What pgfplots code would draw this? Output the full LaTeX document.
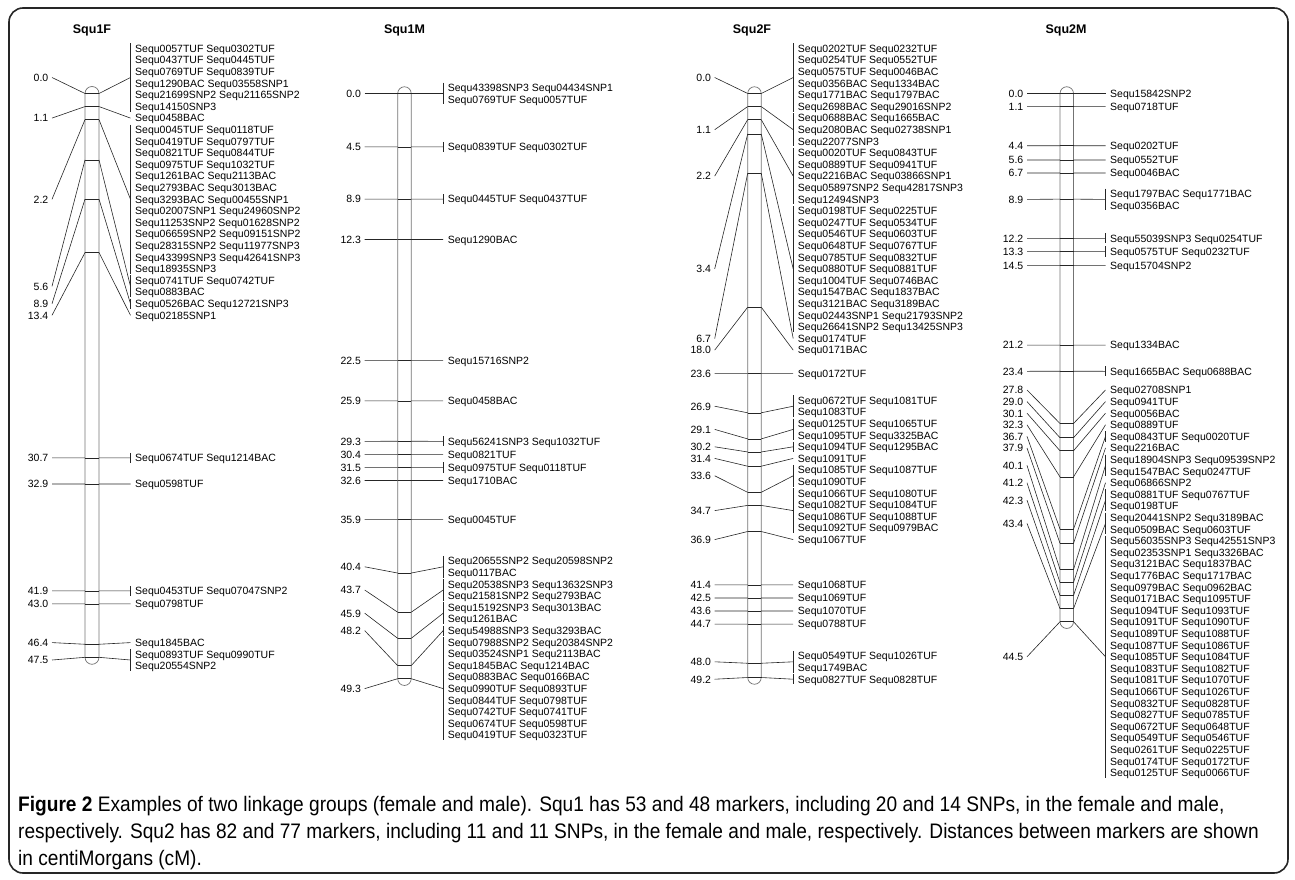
\documentclass[border=0pt]{standalone}
\usepackage{pgfplots}
\pgfplotsset{compat=1.18}
\usepackage{pgfplotstable}
\usepackage{fontspec}
\setmainfont{Liberation Sans}
\newfontfamily\capfont[FakeStretch=0.91]{Liberation Sans}
\definecolor{chr}{gray}{0.45}
\definecolor{lnk}{gray}{0.15}
\newcommand\labfont{\fontsize{10.5}{11.6}\selectfont}

% ---------- Squ1F ----------
\pgfplotstableread{
cM yl nl br
0.0 77.5 6 1
1.1 118.1 1 0
2.2 199.3 13 1
5.6 286.3 2 1
8.9 303.7 1 1
13.4 315.3 1 0
30.7 457.9 1 1
32.9 484.0 1 0
41.9 590.9 1 1
43.0 603.9 1 0
46.4 642.6 1 0
47.5 660.0 2 1
}\lociA
\pgfplotstableread[col sep=comma]{
y,t
48.5,Sequ0057TUF Sequ0302TUF
60.1,Sequ0437TUF Sequ0445TUF
71.7,Sequ0769TUF Sequ0839TUF
83.3,Sequ1290BAC Sequ03558SNP1
94.9,Sequ21699SNP2 Sequ21165SNP2
106.5,Sequ14150SNP3
118.1,Sequ0458BAC
129.7,Sequ0045TUF Sequ0118TUF
141.3,Sequ0419TUF Sequ0797TUF
152.9,Sequ0821TUF Sequ0844TUF
164.5,Sequ0975TUF Sequ1032TUF
176.1,Sequ1261BAC Sequ2113BAC
187.7,Sequ2793BAC Sequ3013BAC
199.3,Sequ3293BAC Sequ00455SNP1
210.9,Sequ02007SNP1 Sequ24960SNP2
222.5,Sequ11253SNP2 Sequ01628SNP2
234.1,Sequ06659SNP2 Sequ09151SNP2
245.7,Sequ28315SNP2 Sequ11977SNP3
257.3,Sequ43399SNP3 Sequ42641SNP3
268.9,Sequ18935SNP3
280.5,Sequ0741TUF Sequ0742TUF
292.1,Sequ0883BAC
303.7,Sequ0526BAC Sequ12721SNP3
315.3,Sequ02185SNP1
457.9,Sequ0674TUF Sequ1214BAC
484.0,Sequ0598TUF
590.9,Sequ0453TUF Sequ07047SNP2
603.9,Sequ0798TUF
642.6,Sequ1845BAC
654.2,Sequ0893TUF Sequ0990TUF
665.8,Sequ20554SNP2
}\txtA

% ---------- Squ1M ----------
\pgfplotstableread{
cM yl nl br
0.0 93.5 2 1
4.5 146.9 1 1
8.9 199.1 1 1
12.3 239.5 1 0
22.5 360.6 1 0
25.9 400.9 1 0
29.3 441.3 1 1
30.4 454.3 1 0
31.5 467.4 1 1
32.6 480.5 1 0
35.9 519.6 1 0
40.4 566.8 2 1
43.7 590.0 2 1
45.9 613.2 2 1
48.2 630.6 1 1
49.3 688.6 9 1
}\lociB
\pgfplotstableread[col sep=comma]{
y,t
87.7,Sequ43398SNP3 Sequ04434SNP1
99.3,Sequ0769TUF Sequ0057TUF
146.9,Sequ0839TUF Sequ0302TUF
199.1,Sequ0445TUF Sequ0437TUF
239.5,Sequ1290BAC
360.6,Sequ15716SNP2
400.9,Sequ0458BAC
441.3,Sequ56241SNP3 Sequ1032TUF
454.3,Sequ0821TUF
467.4,Sequ0975TUF Sequ0118TUF
480.5,Sequ1710BAC
519.6,Sequ0045TUF
561.0,Sequ20655SNP2 Sequ20598SNP2
572.6,Sequ0117BAC
584.2,Sequ20538SNP3 Sequ13632SNP3
595.8,Sequ21581SNP2 Sequ2793BAC
607.4,Sequ15192SNP3 Sequ3013BAC
619.0,Sequ1261BAC
630.6,Sequ54988SNP3 Sequ3293BAC
642.2,Sequ07988SNP2 Sequ20384SNP2
653.8,Sequ03524SNP1 Sequ2113BAC
665.4,Sequ1845BAC Sequ1214BAC
677.0,Sequ0883BAC Sequ0166BAC
688.6,Sequ0990TUF Sequ0893TUF
700.2,Sequ0844TUF Sequ0798TUF
711.8,Sequ0742TUF Sequ0741TUF
723.4,Sequ0674TUF Sequ0598TUF
735.0,Sequ0419TUF Sequ0323TUF
}\txtB

% ---------- Squ2F ----------
\pgfplotstableread{
cM yl nl br
0.0 77.5 6 1
1.1 129.7 3 1
2.2 176.1 5 1
3.4 268.9 11 1
6.7 338.5 1 0
18.0 350.1 1 0
23.6 373.6 1 0
26.9 406.2 2 1
29.1 429.4 2 1
30.2 446.8 1 1
31.4 458.4 1 0
33.6 475.8 2 1
34.7 510.6 4 1
36.9 539.6 1 0
41.4 584.9 1 0
42.5 598.0 1 0
43.6 611.0 1 0
44.7 624.1 1 0
48.0 661.8 2 1
49.2 679.2 1 1
}\lociC
\pgfplotstableread[col sep=comma]{
y,t
48.5,Sequ0202TUF Sequ0232TUF
60.1,Sequ0254TUF Sequ0552TUF
71.7,Sequ0575TUF Sequ0046BAC
83.3,Sequ0356BAC Sequ1334BAC
94.9,Sequ1771BAC Sequ1797BAC
106.5,Sequ2698BAC Sequ29016SNP2
118.1,Sequ0688BAC Sequ1665BAC
129.7,Sequ2080BAC Sequ02738SNP1
141.3,Sequ22077SNP3
152.9,Sequ0020TUF Sequ0843TUF
164.5,Sequ0889TUF Sequ0941TUF
176.1,Sequ2216BAC Sequ03866SNP1
187.7,Sequ05897SNP2 Sequ42817SNP3
199.3,Sequ12494SNP3
210.9,Sequ0198TUF Sequ0225TUF
222.5,Sequ0247TUF Sequ0534TUF
234.1,Sequ0546TUF Sequ0603TUF
245.7,Sequ0648TUF Sequ0767TUF
257.3,Sequ0785TUF Sequ0832TUF
268.9,Sequ0880TUF Sequ0881TUF
280.5,Sequ1004TUF Sequ0746BAC
292.1,Sequ1547BAC Sequ1837BAC
303.7,Sequ3121BAC Sequ3189BAC
315.3,Sequ02443SNP1 Sequ21793SNP2
326.9,Sequ26641SNP2 Sequ13425SNP3
338.5,Sequ0174TUF
350.1,Sequ0171BAC
373.6,Sequ0172TUF
400.4,Sequ0672TUF Sequ1081TUF
412.0,Sequ1083TUF
423.6,Sequ0125TUF Sequ1065TUF
435.2,Sequ1095TUF Sequ3325BAC
446.8,Sequ1094TUF Sequ1295BAC
458.4,Sequ1091TUF
470.0,Sequ1085TUF Sequ1087TUF
481.6,Sequ1090TUF
493.2,Sequ1066TUF Sequ1080TUF
504.8,Sequ1082TUF Sequ1084TUF
516.4,Sequ1086TUF Sequ1088TUF
528.0,Sequ1092TUF Sequ0979BAC
539.6,Sequ1067TUF
584.9,Sequ1068TUF
598.0,Sequ1069TUF
611.0,Sequ1070TUF
624.1,Sequ0788TUF
656.0,Sequ0549TUF Sequ1026TUF
667.6,Sequ1749BAC
679.2,Sequ0827TUF Sequ0828TUF
}\txtC

% ---------- Squ2M ----------
\pgfplotstableread{
cM yl nl br
0.0 93.5 1 0
1.1 106.6 1 0
4.4 145.7 1 0
5.6 160.0 1 0
6.7 173.0 1 0
8.9 199.4 2 1
12.2 238.3 1 1
13.3 251.4 1 1
14.5 265.6 1 0
21.2 345.1 1 0
23.4 371.3 1 1
27.8 390.0 1 0
29.0 401.6 1 0
30.1 413.2 1 0
32.3 424.8 1 0
36.7 436.4 1 1
37.9 448.0 1 0
40.1 465.4 2 1
41.2 482.8 1 0
42.3 500.2 2 1
43.4 523.4 2 1
44.5 656.8 21 1
}\lociD
\pgfplotstableread[col sep=comma]{
y,t
93.5,Sequ15842SNP2
106.6,Sequ0718TUF
145.7,Sequ0202TUF
160.0,Sequ0552TUF
173.0,Sequ0046BAC
193.6,Sequ1797BAC Sequ1771BAC
205.2,Sequ0356BAC
238.3,Sequ55039SNP3 Sequ0254TUF
251.4,Sequ0575TUF Sequ0232TUF
265.6,Sequ15704SNP2
345.1,Sequ1334BAC
371.3,Sequ1665BAC Sequ0688BAC
390.0,Sequ02708SNP1
401.6,Sequ0941TUF
413.2,Sequ0056BAC
424.8,Sequ0889TUF
436.4,Sequ0843TUF Sequ0020TUF
448.0,Sequ2216BAC
459.6,Sequ18904SNP3 Sequ09539SNP2
471.2,Sequ1547BAC Sequ0247TUF
482.8,Sequ06866SNP2
494.4,Sequ0881TUF Sequ0767TUF
506.0,Sequ0198TUF
517.6,Sequ20441SNP2 Sequ3189BAC
529.2,Sequ0509BAC Sequ0603TUF
540.8,Sequ56035SNP3 Sequ42551SNP3
552.4,Sequ02353SNP1 Sequ3326BAC
564.0,Sequ3121BAC Sequ1837BAC
575.6,Sequ1776BAC Sequ1717BAC
587.2,Sequ0979BAC Sequ0962BAC
598.8,Sequ0171BAC Sequ1095TUF
610.4,Sequ1094TUF Sequ1093TUF
622.0,Sequ1091TUF Sequ1090TUF
633.6,Sequ1089TUF Sequ1088TUF
645.2,Sequ1087TUF Sequ1086TUF
656.8,Sequ1085TUF Sequ1084TUF
668.4,Sequ1083TUF Sequ1082TUF
680.0,Sequ1081TUF Sequ1070TUF
691.6,Sequ1066TUF Sequ1026TUF
703.2,Sequ0832TUF Sequ0828TUF
714.8,Sequ0827TUF Sequ0785TUF
726.4,Sequ0672TUF Sequ0648TUF
738.0,Sequ0549TUF Sequ0546TUF
749.6,Sequ0261TUF Sequ0225TUF
761.2,Sequ0174TUF Sequ0172TUF
772.8,Sequ0125TUF Sequ0066TUF
}\txtD

% #1 chrom left x, #2 chrom right x, #3 cap radius, #4 top y, #5 bottom y,
% #6 loci table, #7 text table, #8 title, #9 title x
\newcommand\chrom[9]{%
  \addplot[draw=chr, line width=0.7pt, rounded corners=#3pt]
    coordinates {(#1,300) (#1,#4) (#2,#4) (#2,#5) (#1,#5) (#1,300)};
  \addplot[draw=lnk, line width=0.6pt, quiver={u=#2-#1, v=0}]
    table[x expr=#1, y expr=93.5+11.87*\thisrow{cM}] {#6};
  \addplot[draw=lnk, line width=0.6pt,
    quiver={u=33, v=93.5+11.87*\thisrow{cM}-\thisrow{yl}}]
    table[x expr=#1-33, y=yl] {#6};
  \addplot[draw=lnk, line width=0.6pt,
    quiver={u=#1+45.5-#2, v=\thisrow{yl}-93.5-11.87*\thisrow{cM}}]
    table[x expr=#2, y expr=93.5+11.87*\thisrow{cM}] {#6};
  \addplot[draw=lnk, line width=0.6pt,
    quiver={u=0, v=(11.6*\thisrow{nl}-1.4)*\thisrow{br}}]
    table[x expr=#1+45.5, y expr=\thisrow{yl}-5.8*\thisrow{nl}+0.7] {#6};
  \addplot[only marks, mark=text, text mark={}, point meta=explicit symbolic,
    nodes near coords={\pgfplotspointmeta},
    every node near coord/.append style={anchor=east, inner sep=0pt,
      font=\labfont, text height=7.6pt, text depth=0pt, text=black}]
    table[x expr=#1-36.5, y=yl, meta=cM] {#6};
  \addplot[only marks, mark=text, text mark={}, point meta=explicit symbolic,
    nodes near coords={\pgfplotspointmeta},
    every node near coord/.append style={anchor=west, inner sep=0pt,
      font=\labfont, text height=7.6pt, text depth=0pt, text=black}]
    table[x expr=#1+50, y=y, meta=t] {#7};
  \node[font=\bfseries\fontsize{12.5}{14}\selectfont] at (axis cs:#9,30) {#8};
}

\begin{document}
\begin{tikzpicture}
\begin{axis}[
  width=1295pt, height=880pt, scale only axis,
  xmin=0, xmax=1295, ymin=0, ymax=880, y dir=reverse,
  axis lines=none, clip=false]
  \path (axis cs:0,0) rectangle (axis cs:1295,880);
  \draw[rounded corners=14pt, line width=1.6pt, black!85]
    (axis cs:9,8) rectangle (axis cs:1288,873);

  \chrom{85}{99}{7}{86.5}{664.3}{\lociA}{\txtA}{Squ1F}{92}
  \chrom{397.7}{411.2}{6.75}{86.75}{685.45}{\lociB}{\txtB}{Squ1M}{404.5}
  \chrom{747.7}{761.2}{6.75}{86.75}{684.25}{\lociC}{\txtC}{Squ2F}{752}
  \chrom{1060}{1073.5}{6.75}{86.75}{628.45}{\lociD}{\txtD}{Squ2M}{1066}

  \node[anchor=base west, inner sep=0pt, font=\capfont\fontsize{21}{27}\selectfont]
    at (axis cs:18,811) {\textbf{Figure 2} Examples of two linkage groups (female and male). Squ1 has 53 and 48 markers, including 20 and 14 SNPs, in the female and male,};
  \node[anchor=base west, inner sep=0pt, font=\capfont\fontsize{21}{27}\selectfont]
    at (axis cs:18,838) {respectively. Squ2 has 82 and 77 markers, including 11 and 11 SNPs, in the female and male, respectively. Distances between markers are shown};
  \node[anchor=base west, inner sep=0pt, font=\capfont\fontsize{21}{27}\selectfont]
    at (axis cs:18,865) {in centiMorgans (cM).};
\end{axis}
\end{tikzpicture}
\end{document}
